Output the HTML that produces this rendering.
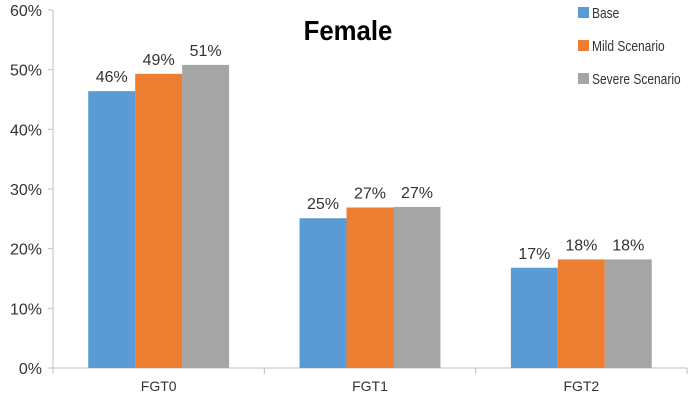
<!DOCTYPE html>
<html><head><meta charset="utf-8"><style>
body{margin:0;background:#fff;}
svg text{font-family:"Liberation Sans",sans-serif;}
</style></head><body>
<svg id="chart" width="690" height="400">
<text x="348" y="40" text-anchor="middle" font-size="28" font-weight="bold" fill="#000" transform="translate(348,0) scale(0.92,1) translate(-348,0)">Female</text>
<g id="legend"></g>
<g id="axes"></g><g id="bars"></g>
</svg>
<script>
const categories=["FGT0","FGT1","FGT2"];
const seriesNames=["Base","Mild Scenario","Severe Scenario"];
const baseVals=[46.4,25.1,16.8];
const mildVals=[49.3,26.9,18.2];
const severeVals=[50.8,27.0,18.2];
const valueLabels=[["46%","25%","17%"],["49%","27%","18%"],["51%","27%","18%"]];
const yTicks=[0,10,20,30,40,50,60];
const colors=["#5b9bd5","#ed7d31","#a5a5a5"];
const series=[baseVals,mildVals,severeVals];
const NS="http://www.w3.org/2000/svg";
const x0=53,x1=687,yBase=368,yTop=10;
const y=v=>yBase-(v/60)*(yBase-yTop);
const cw=(x1-x0)/categories.length;
const bw=cw*2/9;
function mk(t,a,p){const e=document.createElementNS(NS,t);for(const k in a)e.setAttribute(k,a[k]);p.appendChild(e);return e;}
const axes=document.getElementById('axes'),bars=document.getElementById('bars'),leg=document.getElementById('legend');
const ya=mk('line',{x1:x0,y1:yTop,x2:x0,y2:yBase,stroke:'#bfbfbf'},axes);


yTicks.forEach(t=>{
 mk('line',{x1:x0-5,x2:x0,y1:y(t),y2:y(t),stroke:'#bfbfbf'},axes);
 const tx=mk('text',{x:x0-11,y:y(t)+6,'text-anchor':'end','font-size':16,fill:'#333'},axes);
 tx.textContent=t+'%';
 
 
});
const xa=mk('line',{x1:x0,y1:yBase,x2:x1,y2:yBase,stroke:'#bfbfbf'},axes);


for(let i=0;i<=categories.length;i++)mk('line',{x1:x0+i*cw,x2:x0+i*cw,y1:yBase,y2:yBase+6,stroke:'#bfbfbf'},axes);
categories.forEach((c,i)=>{
 const cx=x0+cw*(i+0.5);
 const tx=mk('text',{x:cx,y:yBase+23,'text-anchor':'middle','font-size':14,fill:'#333'},axes);
 tx.textContent=c;
 
 
 series.forEach((s,j)=>{
  const bx=cx-1.5*bw+j*bw;
  const r=mk('rect',{x:bx,y:y(s[i]),width:bw,height:yBase-y(s[i]),fill:colors[j]},bars);
  
  
  const lt=mk('text',{x:bx+bw/2,y:y(s[i])-9,'text-anchor':'middle','font-size':16,fill:'#333'},bars);
  lt.textContent=valueLabels[j][i];
  
  
 });
});
seriesNames.forEach((n,j)=>{
 const yy=13+j*33;
 const r=mk('rect',{x:578,y:yy-6,width:11,height:11,fill:colors[j]},leg);
 
 
 const t=mk('text',{x:592,y:yy+5,'font-size':15,fill:'#333',transform:'translate(592,0) scale(0.8,1) translate(-592,0)'},leg);
 t.textContent=n;
 
 
});
</script>
</body></html>
